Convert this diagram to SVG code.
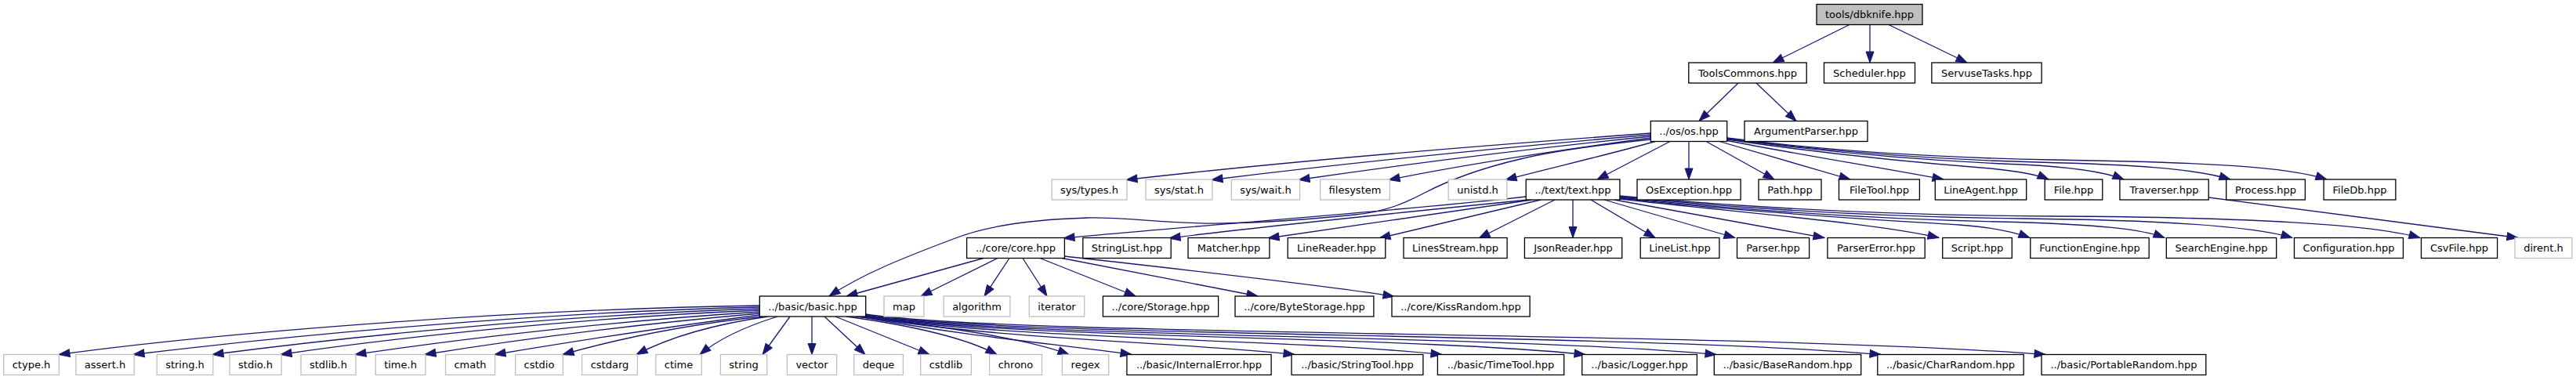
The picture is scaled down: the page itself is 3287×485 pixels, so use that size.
<svg xmlns="http://www.w3.org/2000/svg" width="3287" height="485" viewBox="0 0 3287 485">
<style>
.n rect{fill:#fff;stroke:#000;stroke-width:1.3}
.g rect{fill:#fff;stroke:#bfbfbf;stroke-width:1.3}
.r rect{fill:#bfbfbf;stroke:#000;stroke-width:1.3}
text{font-family:"DejaVu Sans","Liberation Sans",sans-serif;font-size:13px;text-anchor:middle;fill:#000}
.e path{fill:none;stroke:#191970;stroke-width:1.3;marker-end:url(#a)}
</style>
<defs>
<marker id="a" markerUnits="userSpaceOnUse" markerWidth="14" markerHeight="10" refX="14" refY="5" orient="auto" viewBox="0 0 14 10" overflow="visible"><path d="M0,0L14,5L0,10z" fill="#191970" stroke="#191970" stroke-width="1"/></marker>
</defs>
<rect width="3287" height="485" fill="#fff"/>
<g class="e" id="edges">
<path d="M2360,31.5L2262,80"/>
<path d="M2386,31.5L2386,80"/>
<path d="M2410,31.5L2510,80"/>
<path d="M2218,106L2168,154.5"/>
<path d="M2241,106L2292,154.5"/>
<path d="M2106.3,170C1900,185 1650,205 1437,229.5"/>
<path d="M2106.3,172C1920,188 1720,208 1546,229.5"/>
<path d="M2106.3,174C1940,191 1790,210 1657,229.5"/>
<path d="M2106.3,176C1970,194 1860,212 1772,229.5"/>
<path d="M2112,180.5C2050,198 1980,214 1921,229.5"/>
<path d="M2131,180.5L2038,229"/>
<path d="M2155,180.5L2155,229"/>
<path d="M2177,180.5L2264,229"/>
<path d="M2194,180.5L2361,229"/>
<path d="M2203.7,179.5C2300,198 2400,214 2480,229"/>
<path d="M2203.7,178C2320,195 2450,208 2540,215C2580,219 2600,223 2614,229"/>
<path d="M2203.7,177C2320,193 2450,205 2580,210C2640,213 2685,219 2710,229"/>
<path d="M2203.7,176.5C2320,192 2450,203 2600,207C2720,210 2800,215 2846,229"/>
<path d="M2203.7,176C2320,191 2450,201 2620,204C2820,207 2920,213 2969,229"/>
<path d="M2106.3,178C2030,186 1980,193 1940,203C1880,217 1845,232 1818,246C1795,258 1770,270 1729,274C1690,278 1630,284 1561,285C1490,286 1440,277 1388,278C1320,280 1260,288 1219,304C1150,330 1100,350 1058,378"/>
<path d="M2818,252L3213,303.5"/>
<path d="M1947.2,251C1800,268 1500,290 1357,304"/>
<path d="M1950,255C1800,270 1600,290 1492,304"/>
<path d="M1955,255L1618,304"/>
<path d="M1966,255L1760,304"/>
<path d="M1984,255L1887,304"/>
<path d="M2007,255L2007,303.5"/>
<path d="M2030,255L2112,303.5"/>
<path d="M2047,255L2214,303.5"/>
<path d="M2060,255L2328,303.5"/>
<path d="M2066.9,254C2250,274 2400,286 2474,303.5"/>
<path d="M2066.9,253C2250,273 2420,282 2500,287C2540,290 2570,296 2590,303.5"/>
<path d="M2066.9,252C2250,271 2420,280 2550,283C2680,286 2735,293 2762,303.5"/>
<path d="M2066.9,251C2250,269 2420,277 2580,279C2780,281 2880,290 2925,303.5"/>
<path d="M2066.9,250C2250,267 2420,275 2620,276C2870,277 3030,287 3088,303.5"/>
<path d="M1255,329.5L1080,378"/>
<path d="M1273,329.5L1175,378"/>
<path d="M1288,329.5L1256,378"/>
<path d="M1305,329.5L1336,378"/>
<path d="M1327,329.5L1449,378"/>
<path d="M1355,329.5L1605,378"/>
<path d="M1358.4,327C1500,343 1700,365 1779,378.5"/>
<path d="M969.3,390C680,394 300,422 75,452.5"/>
<path d="M969.3,392C700,398 390,426 170,452.5"/>
<path d="M969.3,394C720,402 460,428 271,452.5"/>
<path d="M969.3,396C750,405 510,430 358,452.5"/>
<path d="M969.3,398C780,410 590,432 453,452.5"/>
<path d="M969.3,400C800,415 650,435 542,452.5"/>
<path d="M969.3,402C860,416 730,436 631,452.5"/>
<path d="M972,404C880,414 790,432 718,452.5"/>
<path d="M980,404C910,414 855,430 812,452.5"/>
<path d="M992,404C960,414 920,430 893,452.5"/>
<path d="M1008,404L973,452.5"/>
<path d="M1036,404L1036,452.5"/>
<path d="M1052,404L1104,452.5"/>
<path d="M1066,404L1186,452.5"/>
<path d="M1080,404C1160,415 1230,430 1272,452.5"/>
<path d="M1092,404C1200,416 1310,432 1364,452.5"/>
<path d="M1096,404C1250,432 1360,440 1444,452.5"/>
<path d="M1100,404C1280,434 1500,436 1652,452.5"/>
<path d="M1103,404C1300,434 1640,432 1840,452.5"/>
<path d="M1104.7,403.5C1300,433 1780,428 2023,452.5"/>
<path d="M1104.7,403C1300,432 1900,426 2190,452.5"/>
<path d="M1104.7,402C1300,431 2050,424 2400,452.5"/>
<path d="M1104.7,401C1300,430 2200,422 2610,452.5"/>
</g>
<g id="n_dbknife" class="r"><rect x="2318" y="5.5" width="135" height="26"/><text x="2385.5" y="23">tools/dbknife.hpp</text></g>
<g id="n_ToolsCommons" class="n"><rect x="2154.8" y="80" width="150.4" height="26"/><text x="2230" y="97.5">ToolsCommons.hpp</text></g>
<g id="n_Scheduler" class="n"><rect x="2327.5" y="80" width="116" height="26"/><text x="2385.5" y="97.5">Scheduler.hpp</text></g>
<g id="n_ServuseTasks" class="n"><rect x="2464.9" y="80" width="140.2" height="26"/><text x="2535" y="97.5">ServuseTasks.hpp</text></g>
<g id="n_os" class="n"><rect x="2106.3" y="154.5" width="97.4" height="26"/><text x="2155" y="172">../os/os.hpp</text></g>
<g id="n_ArgumentParser" class="n"><rect x="2226" y="154.5" width="157" height="26"/><text x="2304.5" y="172">ArgumentParser.hpp</text></g>
<g id="n_sys_types" class="g"><rect x="1342.1" y="229" width="95.8" height="26"/><text x="1390" y="246.5">sys/types.h</text></g>
<g id="n_sys_stat" class="g"><rect x="1462" y="229" width="84.9" height="26"/><text x="1504.5" y="246.5">sys/stat.h</text></g>
<g id="n_sys_wait" class="g"><rect x="1571.3" y="229" width="87.3" height="26"/><text x="1615" y="246.5">sys/wait.h</text></g>
<g id="n_filesystem" class="g"><rect x="1684.6" y="229" width="88.8" height="26"/><text x="1729" y="246.5">filesystem</text></g>
<g id="n_unistd" class="g"><rect x="1848.2" y="229" width="74.6" height="26"/><text x="1885.5" y="246.5">unistd.h</text></g>
<g id="n_text" class="n"><rect x="1947.2" y="229" width="119.7" height="26"/><text x="2007" y="246.5">../text/text.hpp</text></g>
<g id="n_OsException" class="n"><rect x="2089" y="229" width="132.1" height="26"/><text x="2155" y="246.5">OsException.hpp</text></g>
<g id="n_Path" class="n"><rect x="2244" y="229" width="80" height="26"/><text x="2284" y="246.5">Path.hpp</text></g>
<g id="n_FileTool" class="n"><rect x="2346.5" y="229" width="102.9" height="26"/><text x="2398" y="246.5">FileTool.hpp</text></g>
<g id="n_LineAgent" class="n"><rect x="2469.3" y="229" width="116.4" height="26"/><text x="2527.5" y="246.5">LineAgent.hpp</text></g>
<g id="n_File" class="n"><rect x="2609.2" y="229" width="73.6" height="26"/><text x="2646" y="246.5">File.hpp</text></g>
<g id="n_Traverser" class="n"><rect x="2704.9" y="229" width="113.3" height="26"/><text x="2761.5" y="246.5">Traverser.hpp</text></g>
<g id="n_Process" class="n"><rect x="2840.7" y="229" width="100.7" height="26"/><text x="2891" y="246.5">Process.hpp</text></g>
<g id="n_FileDb" class="n"><rect x="2965.1" y="229" width="91.8" height="26"/><text x="3011" y="246.5">FileDb.hpp</text></g>
<g id="n_core" class="n"><rect x="1233.6" y="303.5" width="124.8" height="26"/><text x="1296" y="321">../core/core.hpp</text></g>
<g id="n_StringList" class="n"><rect x="1381.8" y="303.5" width="112.4" height="26"/><text x="1438" y="321">StringList.hpp</text></g>
<g id="n_Matcher" class="n"><rect x="1516" y="303.5" width="103.9" height="26"/><text x="1568" y="321">Matcher.hpp</text></g>
<g id="n_LineReader" class="n"><rect x="1643.2" y="303.5" width="124.6" height="26"/><text x="1705.5" y="321">LineReader.hpp</text></g>
<g id="n_LinesStream" class="n"><rect x="1791" y="303.5" width="132.1" height="26"/><text x="1857" y="321">LinesStream.hpp</text></g>
<g id="n_JsonReader" class="n"><rect x="1945.4" y="303.5" width="124.3" height="26"/><text x="2007.5" y="321">JsonReader.hpp</text></g>
<g id="n_LineList" class="n"><rect x="2093.2" y="303.5" width="100.7" height="26"/><text x="2143.5" y="321">LineList.hpp</text></g>
<g id="n_Parser" class="n"><rect x="2216.5" y="303.5" width="92.1" height="26"/><text x="2262.5" y="321">Parser.hpp</text></g>
<g id="n_ParserError" class="n"><rect x="2331.9" y="303.5" width="124.3" height="26"/><text x="2394" y="321">ParserError.hpp</text></g>
<g id="n_Script" class="n"><rect x="2478.7" y="303.5" width="88.6" height="26"/><text x="2523" y="321">Script.hpp</text></g>
<g id="n_FunctionEngine" class="n"><rect x="2590.8" y="303.5" width="151.4" height="26"/><text x="2666.5" y="321">FunctionEngine.hpp</text></g>
<g id="n_SearchEngine" class="n"><rect x="2764.3" y="303.5" width="140.4" height="26"/><text x="2834.5" y="321">SearchEngine.hpp</text></g>
<g id="n_Configuration" class="n"><rect x="2927.5" y="303.5" width="139" height="26"/><text x="2997" y="321">Configuration.hpp</text></g>
<g id="n_CsvFile" class="n"><rect x="3089.5" y="303.5" width="97.1" height="26"/><text x="3138" y="321">CsvFile.hpp</text></g>
<g id="n_dirent" class="g"><rect x="3209" y="303.5" width="72.9" height="26"/><text x="3245.5" y="321">dirent.h</text></g>
<g id="n_basic" class="n"><rect x="969.3" y="378" width="135.4" height="26"/><text x="1037" y="395.5">../basic/basic.hpp</text></g>
<g id="n_map" class="g"><rect x="1128" y="378" width="51" height="26"/><text x="1153.5" y="395.5">map</text></g>
<g id="n_algorithm" class="g"><rect x="1204.2" y="378" width="84.7" height="26"/><text x="1246.5" y="395.5">algorithm</text></g>
<g id="n_iterator" class="g"><rect x="1313.3" y="378" width="70.4" height="26"/><text x="1348.5" y="395.5">iterator</text></g>
<g id="n_Storage" class="n"><rect x="1407.4" y="378" width="147.2" height="26"/><text x="1481" y="395.5">../core/Storage.hpp</text></g>
<g id="n_ByteStorage" class="n"><rect x="1576" y="378" width="176.9" height="26"/><text x="1664.5" y="395.5">../core/ByteStorage.hpp</text></g>
<g id="n_KissRandom" class="n"><rect x="1776" y="378" width="176.1" height="26"/><text x="1864" y="395.5">../core/KissRandom.hpp</text></g>
<g id="n_ctype" class="g"><rect x="4.7" y="452.5" width="70.6" height="26"/><text x="40" y="470">ctype.h</text></g>
<g id="n_assert" class="g"><rect x="96.9" y="452.5" width="74.3" height="26"/><text x="134" y="470">assert.h</text></g>
<g id="n_string_h" class="g"><rect x="200.2" y="452.5" width="71.7" height="26"/><text x="236" y="470">string.h</text></g>
<g id="n_stdio" class="g"><rect x="293" y="452.5" width="66.1" height="26"/><text x="326" y="470">stdio.h</text></g>
<g id="n_stdlib" class="g"><rect x="384" y="452.5" width="70" height="26"/><text x="419" y="470">stdlib.h</text></g>
<g id="n_time" class="g"><rect x="479.2" y="452.5" width="63.7" height="26"/><text x="511" y="470">time.h</text></g>
<g id="n_cmath" class="g"><rect x="568.5" y="452.5" width="63.1" height="26"/><text x="600" y="470">cmath</text></g>
<g id="n_cstdio" class="g"><rect x="657.6" y="452.5" width="60.8" height="26"/><text x="688" y="470">cstdio</text></g>
<g id="n_cstdarg" class="g"><rect x="742.6" y="452.5" width="70.8" height="26"/><text x="778" y="470">cstdarg</text></g>
<g id="n_ctime" class="g"><rect x="836.8" y="452.5" width="58.5" height="26"/><text x="866" y="470">ctime</text></g>
<g id="n_string" class="g"><rect x="919.4" y="452.5" width="59.3" height="26"/><text x="949" y="470">string</text></g>
<g id="n_vector" class="g"><rect x="1004.4" y="452.5" width="63.2" height="26"/><text x="1036" y="470">vector</text></g>
<g id="n_deque" class="g"><rect x="1089.7" y="452.5" width="62.7" height="26"/><text x="1121" y="470">deque</text></g>
<g id="n_cstdlib" class="g"><rect x="1174.7" y="452.5" width="64.7" height="26"/><text x="1207" y="470">cstdlib</text></g>
<g id="n_chrono" class="g"><rect x="1262.6" y="452.5" width="66.9" height="26"/><text x="1296" y="470">chrono</text></g>
<g id="n_regex" class="g"><rect x="1355.4" y="452.5" width="59.3" height="26"/><text x="1385" y="470">regex</text></g>
<g id="n_InternalError" class="n"><rect x="1437.9" y="452.5" width="184.2" height="26"/><text x="1530" y="470">../basic/InternalError.hpp</text></g>
<g id="n_StringTool" class="n"><rect x="1648" y="452.5" width="167.9" height="26"/><text x="1732" y="470">../basic/StringTool.hpp</text></g>
<g id="n_TimeTool" class="n"><rect x="1834.4" y="452.5" width="161.3" height="26"/><text x="1915" y="470">../basic/TimeTool.hpp</text></g>
<g id="n_Logger" class="n"><rect x="2018.7" y="452.5" width="146.7" height="26"/><text x="2092" y="470">../basic/Logger.hpp</text></g>
<g id="n_BaseRandom" class="n"><rect x="2187.3" y="452.5" width="187.4" height="26"/><text x="2281" y="470">../basic/BaseRandom.hpp</text></g>
<g id="n_CharRandom" class="n"><rect x="2395.8" y="452.5" width="186.4" height="26"/><text x="2489" y="470">../basic/CharRandom.hpp</text></g>
<g id="n_PortableRandom" class="n"><rect x="2605" y="452.5" width="209.8" height="26"/><text x="2710" y="470">../basic/PortableRandom.hpp</text></g>
</svg>
